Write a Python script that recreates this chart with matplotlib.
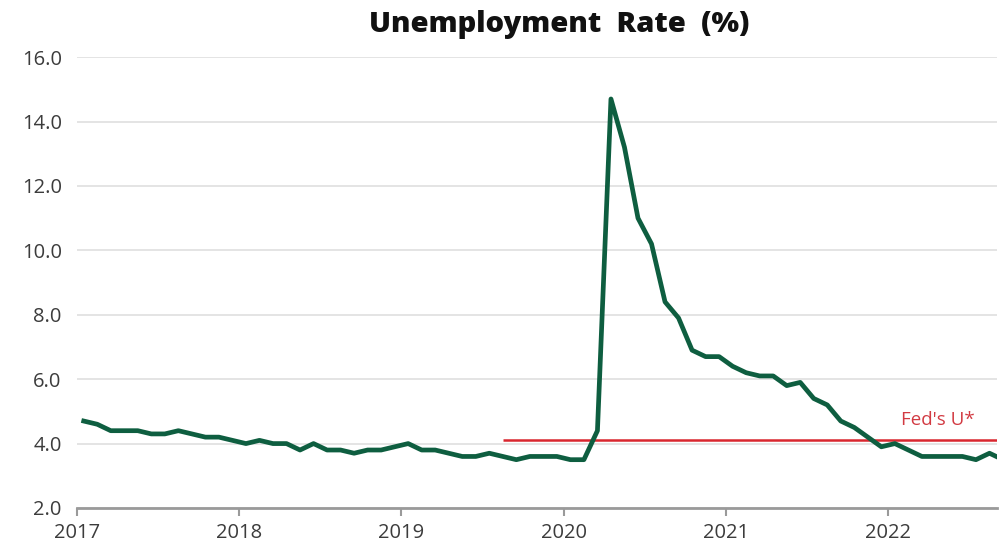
#!/usr/bin/env python3

import matplotlib.pyplot as plt
import numpy as np

# monthly US unemployment rate, Jan 2017 .. Sep 2022
rate_2017 = [4.7, 4.6, 4.4, 4.4, 4.4, 4.3, 4.3, 4.4, 4.3, 4.2, 4.2, 4.1]
rate_2018 = [4.0, 4.1, 4.0, 4.0, 3.8, 4.0, 3.8, 3.8, 3.7, 3.8, 3.8, 3.9]
rate_2019 = [4.0, 3.8, 3.8, 3.7, 3.6, 3.6, 3.7, 3.6, 3.5, 3.6, 3.6, 3.6]
rate_2020 = [3.5, 3.5, 4.4, 14.7, 13.2, 11.0, 10.2, 8.4, 7.9, 6.9, 6.7, 6.7]
rate_2021 = [6.4, 6.2, 6.1, 6.1, 5.8, 5.9, 5.4, 5.2, 4.7, 4.5, 4.2, 3.9]
rate_2022 = [4.0, 3.8, 3.6, 3.6, 3.6, 3.6, 3.5, 3.7, 3.5]

fed_u_star = 4.1
fed_u_star_from = 31  # month index, Aug 2019

years = [2017, 2018, 2019, 2020, 2021, 2022]
yticks = [2.0, 4.0, 6.0, 8.0, 10.0, 12.0, 14.0, 16.0]

rates = rate_2017 + rate_2018 + rate_2019 + rate_2020 + rate_2021 + rate_2022
# each month is drawn at its mid point
months = 2017 + (np.arange(len(rates)) + 0.5) / 12
x_end = 2022.67

plt.rcParams["font.family"] = ["Open Sans", "DejaVu Sans"]

fig = plt.figure(figsize=(10.02, 5.49), dpi=100)
ax = fig.add_axes([0.0768, 0.0747, 0.918, 0.8213])

ax.plot(months, rates, color="#0e5e40", lw=3.4, solid_joinstyle="round", zorder=3)
ax.hlines(fed_u_star, months[fed_u_star_from], x_end, color="#d9262f", lw=1.8, zorder=2)
ax.text(2022.535, 4.73, "Fed's U*", color="#d23a42",
        fontsize=13.5, ha="right", va="center")

ax.set_xlim(2017, x_end)
ax.set_ylim(2.0, 16.0)
ax.set_yticks(yticks)
ax.set_yticklabels([f"{v:.1f}" for v in yticks])
ax.set_xticks(years)
ax.set_xticklabels([str(y) for y in years])

ax.grid(axis="y", color="#e4e4e4", lw=1.4)
ax.set_axisbelow(True)
for side in ["top", "right", "left"]:
    ax.spines[side].set_visible(False)
ax.spines["bottom"].set_color("#9a9a9a")
ax.spines["bottom"].set_linewidth(2)

ax.tick_params(axis="y", length=0, pad=11, labelsize=14.5, labelcolor="#3c3c3c")
ax.tick_params(axis="x", length=6, width=1.5, color="#9a9a9a", pad=5,
               labelsize=14.5, labelcolor="#3c3c3c")

fig.text(0.558, 0.955, "Unemployment  Rate  (%)", ha="center", va="center",
         fontsize=21, fontweight="heavy", color="#111111")

fig.savefig("out.png", dpi=100)
